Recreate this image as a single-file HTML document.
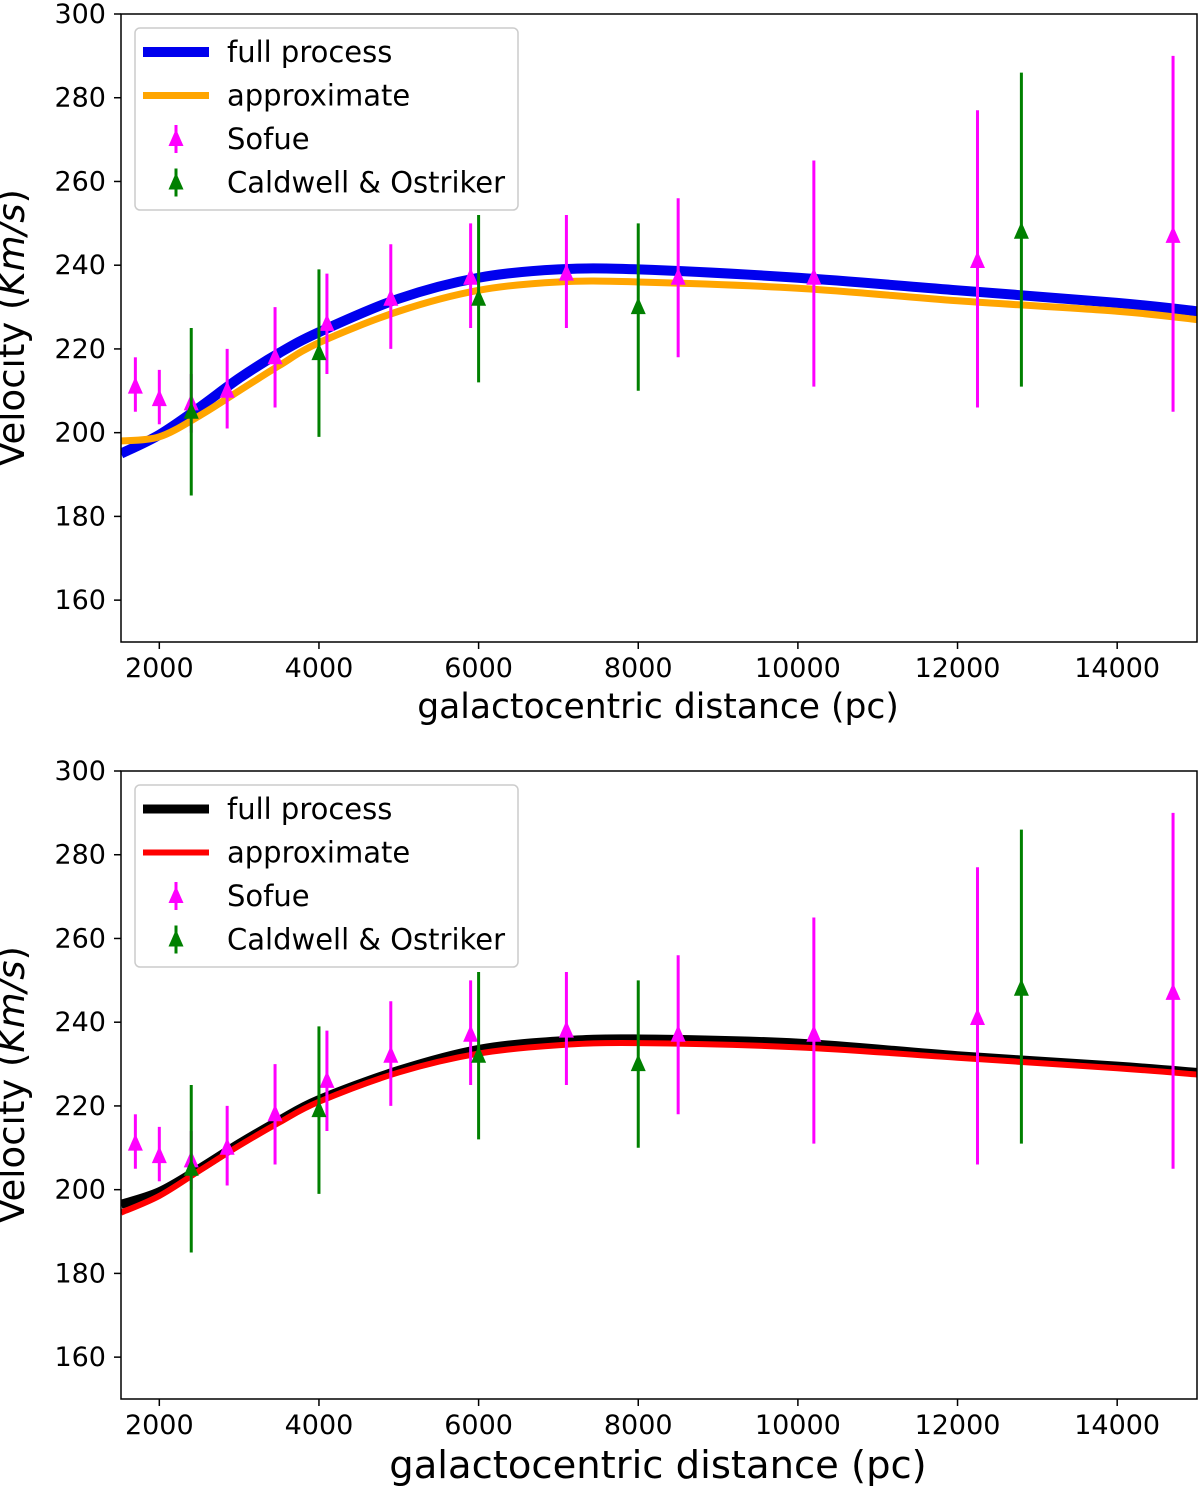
<!DOCTYPE html>
<html><head><meta charset="utf-8"><style>
html,body{margin:0;padding:0;background:#fff;}
svg text{font-family:"DejaVu Sans","Liberation Sans",sans-serif;fill:#000;}
</style></head><body>
<svg id="chart" width="1200" height="1487" xmlns="http://www.w3.org/2000/svg"></svg>
<script>
const xTicks=[2000,4000,6000,8000,10000,12000,14000];
const yTicks=[160,180,200,220,240,260,280,300];
const sofueX=[1700,2000,2400,2850,3450,4100,4900,5900,7100,8500,10200,12250,14700];
const sofueY=[211,208,207,210,218,226,232,237,238,237,237,241,247];
const sofueLo=[205,202,200,201,206,214,220,225,225,218,211,206,205];
const sofueHi=[218,215,214,220,230,238,245,250,252,256,265,277,290];
const caldX=[2400,4000,6000,8000,12800];
const caldY=[205,219,232,230,248];
const caldLo=[185,199,212,210,211];
const caldHi=[225,239,252,250,286];
const curveX=[1520,2000,2500,3000,3500,4000,5000,6000,7000,8000,10000,12000,14000,15000];
const fullTop=[195,199.5,206,213,219,224,232,237,239,239,237,234,231,229];
const approxTop=[198,199,204,210,216,221.5,229,234,236,236,234.5,231.5,229,227];
const fullBot=[196.5,199.5,205,211,216.5,221.5,228.5,233.5,235.5,236,235,232,229.5,228];
const approxBot=[194.5,198.5,204.5,210.5,216,221,228,232.5,234.5,235,234,231.5,229,227.5];

const NS="http://www.w3.org/2000/svg";
const svg=document.getElementById('chart');
function mk(tag,attrs,parent,text){const e=document.createElementNS(NS,tag);for(const k in attrs)e.setAttribute(k,attrs[k]);if(text!==undefined)e.textContent=text;(parent||svg).appendChild(e);return e;}

const L=121,R=1197,XMIN=1520,XMAX=15000,YMIN=150,YMAX=300;
function panel(top,bottom,fullArr,approxArr,fullColor,approxColor,fullW,approxW,idx,xlabelSize,xlabelY){
  const g=mk('g',{});
  
  
  const xs=v=>L+(v-XMIN)/(XMAX-XMIN)*(R-L);
  const ys=v=>bottom-(v-YMIN)/(YMAX-YMIN)*(bottom-top);
  const clip=mk('clipPath',{id:'clip'+idx},g);
  mk('rect',{x:L,y:top,width:R-L,height:bottom-top},clip);
  xTicks.forEach(t=>{
    const tk=mk('line',{x1:xs(t),x2:xs(t),y1:bottom,y2:bottom+7,stroke:'#000','stroke-width':1.5},g);
    
    
    const tl=mk('text',{x:xs(t),y:bottom+35,'font-size':27,'text-anchor':'middle'},g,String(t));
    
    
  });
  yTicks.forEach(t=>{
    const tk=mk('line',{x1:L-7,x2:L,y1:ys(t),y2:ys(t),stroke:'#000','stroke-width':1.5},g);
    
    
    const tl=mk('text',{x:L-15,y:ys(t)+9,'font-size':27,'text-anchor':'end'},g,String(t));
    
    
  });
  const pg=mk('g',{'clip-path':'url(#clip'+idx+')'},g);
  function curve(arr,color,w,name){
    const P=curveX.map((x,i)=>[xs(x),ys(arr[i])]);
    let d='M'+P[0][0]+','+P[0][1];
    for(let i=0;i<P.length-1;i++){
      const p0=P[Math.max(0,i-1)],p1=P[i],p2=P[i+1],p3=P[Math.min(P.length-1,i+2)];
      const c1=[p1[0]+(p2[0]-p0[0])/6,p1[1]+(p2[1]-p0[1])/6];
      const c2=[p2[0]-(p3[0]-p1[0])/6,p2[1]-(p3[1]-p1[1])/6];
      d+=' C'+c1+' '+c2+' '+p2;
    }
    const p=mk('path',{d:d,fill:'none',stroke:color,'stroke-width':w},pg);
    
    
  }
  curve(fullArr,fullColor,fullW,'full-process-curve');
  curve(approxArr,approxColor,approxW,'approximate-curve');
  function points(X,Y,Lo,Hi,color,name){
    X.forEach((x,i)=>{
      const eb=mk('line',{x1:xs(x),x2:xs(x),y1:ys(Lo[i]),y2:ys(Hi[i]),stroke:color,'stroke-width':3},pg);
      
      
      const cx=xs(x),cy=ys(Y[i]);
      const m=mk('polygon',{points:`${cx},${cy-10} ${cx-7.5},${cy+7} ${cx+7.5},${cy+7}`,fill:color},pg);
      
      
    });
  }
  points(sofueX,sofueY,sofueLo,sofueHi,'#ff00ff','sofue');
  points(caldX,caldY,caldLo,caldHi,'#008000','caldwell');
  const fr=mk('rect',{x:L,y:top,width:R-L,height:bottom-top,fill:'none',stroke:'#000','stroke-width':1.5},g);
  
  
  const lg=mk('g',{},g);
  
  
  const lt=top+14;
  mk('rect',{x:135,y:lt,width:383,height:182,rx:5,fill:'#fff','fill-opacity':0.85,stroke:'#ccc','stroke-width':1.5},lg);
  const ents=[['full process','line',fullColor,fullW],['approximate','line',approxColor,approxW],['Sofue','tri','#ff00ff'],['Caldwell & Ostriker','tri','#008000']];
  ents.forEach((e,i)=>{
    const cy=lt+24+i*43.5;
    const eg=mk('g',{},lg);
    
    
    if(e[1]==='line'){mk('line',{x1:143,x2:209,y1:cy,y2:cy,stroke:e[2],'stroke-width':e[3]},eg);}
    else{mk('line',{x1:176,x2:176,y1:cy-14,y2:cy+14,stroke:e[2],'stroke-width':3},eg);
      mk('polygon',{points:`176,${cy-10} 168.5,${cy+7} 183.5,${cy+7}`,fill:e[2]},eg);}
    mk('text',{x:227,y:cy+10,'font-size':29},eg,e[0]);
  });
  const xl=mk('text',{x:658,y:xlabelY,'font-size':xlabelSize,'text-anchor':'middle'},g,'galactocentric distance (pc)');
  
  
  const yl=mk('text',{transform:`translate(24,${(top+bottom)/2}) rotate(-90)`,'font-size':37,'text-anchor':'middle'},g);
  
  
  mk('tspan',{},yl,'Velocity (');
  mk('tspan',{'font-style':'italic'},yl,'Km/s');
  mk('tspan',{},yl,')');
}
panel(14,642,fullTop,approxTop,'#0000ee','#ffa500',10,7,'top',34.5,718);
panel(771,1399,fullBot,approxBot,'#000','#ff0000',9,6,'bottom',38.5,1478);
</script>
</body></html>
